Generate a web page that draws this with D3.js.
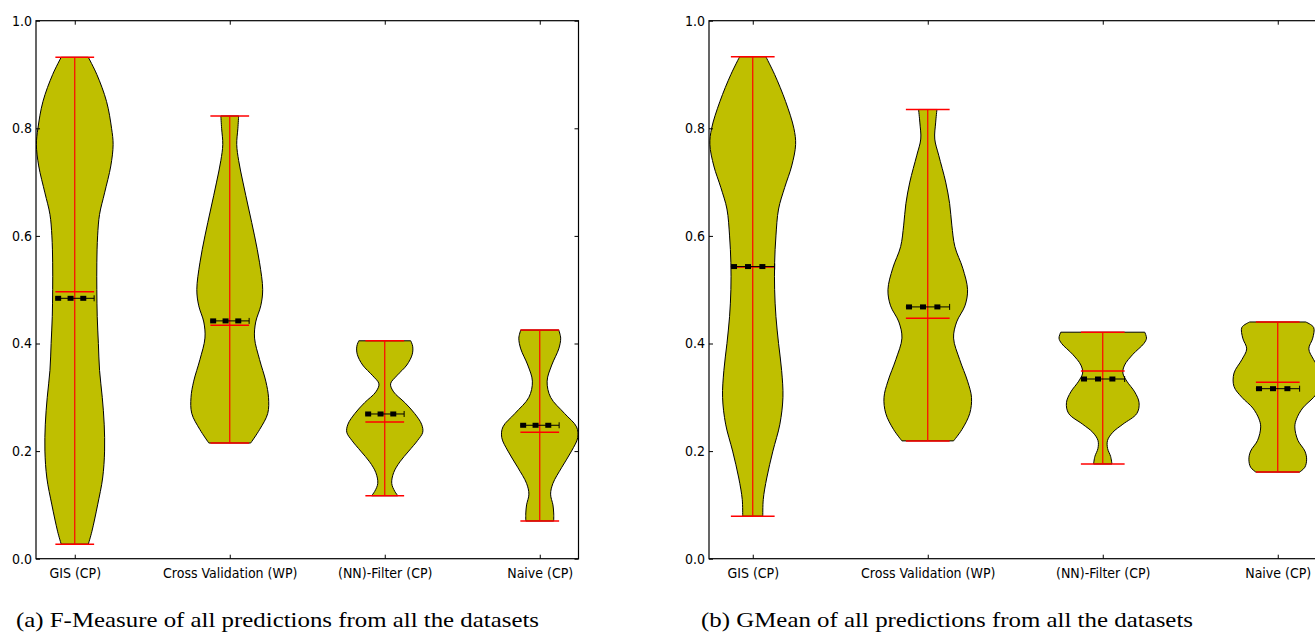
<!DOCTYPE html>
<html>
<head>
<meta charset="utf-8">
<script src="https://cdn.jsdelivr.net/npm/d3@7"></script>
<style>
    body { margin: 0; background: #fff; }
    .tick text { font-family: "DejaVu Sans"; font-stretch: condensed; font-size: 14px; fill: #000; }
    .caption { font-family: "Liberation Serif", "DejaVu Serif"; font-size: 21px; fill: #000; }
</style>
</head>
<body>
<svg id="chart" width="1315" height="636"></svg>
<script>
// categories + ticks
var categories = ["GIS (CP)", "Cross Validation (WP)", "(NN)-Filter (CP)", "Naive (CP)"];
var yTicks = [0.0, 0.2, 0.4, 0.6, 0.8, 1.0];

// (a) F-Measure
var fmMin    = [0.027, 0.215, 0.117, 0.070];
var fmMax    = [0.932, 0.823, 0.405, 0.425];
var fmMedian = [0.496, 0.434, 0.254, 0.235];
var fmMean   = [0.484, 0.442, 0.269, 0.248];
// density profiles [value, relative width]
var fmShapes = [
    [[0.932,0.35],[0.90,0.57],[0.85,0.82],[0.80,0.95],[0.77,0.99],[0.73,0.93],[0.68,0.77],[0.64,0.64],[0.60,0.59],[0.55,0.57],[0.50,0.57],[0.45,0.58],[0.40,0.61],[0.35,0.64],[0.30,0.71],[0.25,0.76],[0.20,0.77],[0.15,0.72],[0.10,0.59],[0.05,0.44],[0.027,0.35]],
    [[0.823,0.23],[0.80,0.21],[0.77,0.18],[0.74,0.23],[0.70,0.34],[0.65,0.49],[0.60,0.64],[0.55,0.77],[0.50,0.85],[0.47,0.80],[0.44,0.67],[0.41,0.64],[0.37,0.77],[0.33,0.93],[0.30,1.0],[0.27,0.98],[0.24,0.77],[0.215,0.54]],
    [[0.405,0.67],[0.395,0.72],[0.38,0.71],[0.36,0.57],[0.34,0.31],[0.325,0.15],[0.31,0.23],[0.29,0.52],[0.27,0.77],[0.25,0.95],[0.235,0.98],[0.22,0.85],[0.20,0.62],[0.18,0.39],[0.16,0.23],[0.14,0.18],[0.125,0.26],[0.117,0.34]],
    [[0.425,0.49],[0.41,0.54],[0.39,0.49],[0.36,0.31],[0.33,0.19],[0.30,0.28],[0.27,0.64],[0.245,0.95],[0.225,0.98],[0.20,0.82],[0.17,0.57],[0.14,0.34],[0.12,0.28],[0.10,0.34],[0.085,0.36],[0.07,0.36]]
];

// (b) GMean
var gmMin    = [0.079, 0.219, 0.176, 0.161];
var gmMax    = [0.933, 0.835, 0.421, 0.440];
var gmMedian = [0.542, 0.447, 0.349, 0.328];
var gmMean   = [0.543, 0.468, 0.334, 0.316];
var gmShapes = [
    [[0.933,0.30],[0.90,0.50],[0.85,0.75],[0.80,0.94],[0.77,0.98],[0.73,0.89],[0.69,0.73],[0.65,0.59],[0.60,0.53],[0.55,0.50],[0.50,0.50],[0.45,0.53],[0.40,0.59],[0.35,0.66],[0.30,0.69],[0.25,0.62],[0.20,0.46],[0.15,0.32],[0.11,0.24],[0.079,0.23]],
    [[0.835,0.21],[0.81,0.18],[0.78,0.16],[0.75,0.25],[0.70,0.41],[0.66,0.50],[0.62,0.55],[0.58,0.62],[0.54,0.80],[0.50,0.91],[0.47,0.85],[0.44,0.66],[0.41,0.59],[0.37,0.73],[0.33,0.91],[0.30,1.0],[0.27,0.96],[0.24,0.78],[0.219,0.59]],
    [[0.421,0.96],[0.41,1.0],[0.40,0.94],[0.38,0.69],[0.36,0.50],[0.345,0.46],[0.33,0.55],[0.31,0.73],[0.29,0.83],[0.27,0.78],[0.25,0.46],[0.235,0.23],[0.22,0.11],[0.205,0.11],[0.19,0.18],[0.176,0.21]],
    [[0.44,0.64],[0.43,0.82],[0.41,0.80],[0.39,0.71],[0.37,0.82],[0.345,1.0],[0.32,1.0],[0.30,0.82],[0.28,0.57],[0.26,0.43],[0.245,0.39],[0.22,0.46],[0.20,0.62],[0.185,0.66],[0.17,0.62],[0.161,0.50]]
];

var captionA = "(a) F-Measure of all predictions from all the datasets";
var captionB = "(b) GMean of all predictions from all the datasets";

var svg = d3.select("#chart");

function ViolinPanel(id, left, right, stats, caption, capX, capLen) {
    var self = this;
    self.id = id;
    self.left = left;
    self.right = right;
    self.stats = stats;
    self.caption = caption;
    self.capX = capX;
    self.capLen = capLen;
    self.init();
}

ViolinPanel.prototype.init = function() {
    var self = this;
    var top = 20.7, bottom = 558.7;

    var x = d3.scaleLinear().domain([0.75, 4.25]).range([self.left, self.right]);
    var y = d3.scaleLinear().domain([0, 1]).range([bottom, top]);
    var halfW = 0.25; // matplotlib widths=0.5

    var g = svg.append("g");

    g.append("clipPath").attr("id", "clip-" + self.id)
        .append("rect")
        .attr("x", self.left).attr("y", top)
        .attr("width", self.right - self.left).attr("height", bottom - top);

    var plot = g.append("g").attr("clip-path", "url(#clip-" + self.id + ")");

    var s = self.stats;
    categories.forEach(function(c, i) {
        var pos = i + 1;
        var area = d3.area()
            .y(function(d) { return y(d[0]); })
            .x0(function(d) { return x(pos - d[1] * halfW); })
            .x1(function(d) { return x(pos + d[1] * halfW); })
            .curve(d3.curveCatmullRom.alpha(0.5));

        plot.append("path")
            .datum(s.shapes[i])
            .attr("d", area)
            .attr("fill", "#bfbf00")
            .attr("stroke", "#000")
            .attr("stroke-width", 1);

        // vertical red line
        plot.append("line")
            .attr("x1", x(pos)).attr("x2", x(pos))
            .attr("y1", y(s.min[i])).attr("y2", y(s.max[i]))
            .attr("stroke", "#ff0000").attr("stroke-width", 1.2);

        // caps + median
        [s.min[i], s.max[i], s.median[i]].forEach(function(v) {
            plot.append("line")
                .attr("x1", x(pos - 0.125)).attr("x2", x(pos + 0.125))
                .attr("y1", y(v)).attr("y2", y(v))
                .attr("stroke", "#ff0000").attr("stroke-width", 1.5);
        });

        // mean marker
        var my = y(s.mean[i]);
        plot.append("line")
            .attr("x1", x(pos - 0.125)).attr("x2", x(pos + 0.125))
            .attr("y1", my).attr("y2", my)
            .attr("stroke", "#000").attr("stroke-width", 1);
        plot.append("line")
            .attr("x1", x(pos + 0.125)).attr("x2", x(pos + 0.125))
            .attr("y1", my - 3).attr("y2", my + 3)
            .attr("stroke", "#000").attr("stroke-width", 1);
        [-0.107, -0.027, 0.055].forEach(function(o) {
            plot.append("rect")
                .attr("x", x(pos + o) - 3).attr("y", my - 2.5)
                .attr("width", 6).attr("height", 5)
                .attr("fill", "#000");
        });
    });

    // axes, ticks pointing inward
    var fmt = d3.format(".1f");
    var yl = g.append("g").attr("transform", "translate(" + self.left + ",0)")
        .call(d3.axisLeft(y).tickValues(yTicks).tickSize(-4).tickPadding(4).tickFormat(fmt));
    var yr = g.append("g").attr("transform", "translate(" + self.right + ",0)")
        .call(d3.axisRight(y).tickValues(yTicks).tickSize(-4).tickFormat(""));
    var xb = g.append("g").attr("transform", "translate(0," + bottom + ")")
        .call(d3.axisBottom(x).tickValues([1, 2, 3, 4]).tickSize(-4).tickPadding(9)
            .tickFormat(function(d) { return categories[d - 1]; }));
    var xt = g.append("g").attr("transform", "translate(0," + top + ")")
        .call(d3.axisTop(x).tickValues([1, 2, 3, 4]).tickSize(-4).tickFormat(""));

    [yl, yr, xb, xt].forEach(function(a) {
        a.select(".domain").remove();
        a.selectAll(".tick line").attr("stroke", "#000").attr("stroke-width", 1);
    });
    yl.selectAll(".tick text").attr("font-family", null).attr("font-size", null);
    xb.selectAll(".tick text").attr("font-family", null).attr("font-size", null);

    g.append("rect")
        .attr("x", self.left).attr("y", top)
        .attr("width", self.right - self.left).attr("height", bottom - top)
        .attr("fill", "none").attr("stroke", "#000").attr("stroke-width", 1.2);

    g.append("text")
        .attr("class", "caption")
        .attr("x", self.capX).attr("y", 627)
        .attr("textLength", self.capLen).attr("lengthAdjust", "spacingAndGlyphs")
        .text(self.caption);
};

new ViolinPanel("a", 36, 578.5,
    {min: fmMin, max: fmMax, median: fmMedian, mean: fmMean, shapes: fmShapes},
    captionA, 16, 523);
new ViolinPanel("b", 709, 1321.5,
    {min: gmMin, max: gmMax, median: gmMedian, mean: gmMean, shapes: gmShapes},
    captionB, 701, 492);
</script>
</body>
</html>
